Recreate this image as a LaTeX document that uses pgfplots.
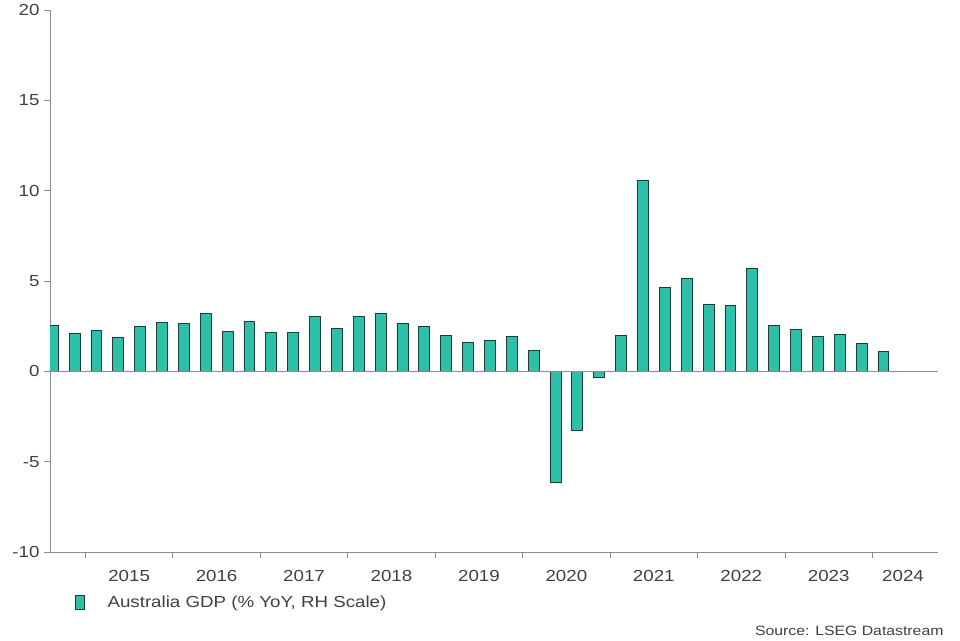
\documentclass[border=0pt]{standalone}
\usepackage{pgfplots}
\pgfplotsset{compat=1.18}
\usepackage{fontspec}
\setmainfont[FakeStretch=1.17]{Liberation Sans}
\definecolor{barfill}{HTML}{2DC0A8}
\definecolor{baredge}{HTML}{1F3D38}
\definecolor{axgrey}{HTML}{8C8C8C}
\definecolor{txt}{HTML}{404040}
\begin{document}
\begin{tikzpicture}[x=1pt,y=1pt]
\path[use as bounding box] (0,0) rectangle (960,640);
\begin{axis}[
  at={(50pt,88pt)}, anchor=south west,
  scale only axis, width=888pt, height=542pt,
  xmin=-1.62, xmax=39, ymin=-10, ymax=20,
  axis x line*=bottom, axis y line*=left,
  axis line style={axgrey, line width=0.8pt},
  ytick={-10,-5,0,5,10,15,20},
  yticklabels={-10,-5,0,5,10,15,20},
  xtick={2,6,10,14,18,22,26,30,34,37.4},
  xticklabels={2015,2016,2017,2018,2019,2020,2021,2022,2023,2024},
  minor xtick={0,4,8,12,16,20,24,28,32,36},
  major x tick style={draw=none},
  minor x tick style={axgrey, line width=0.8pt},
  y tick style={axgrey, line width=0.8pt},
  tick align=outside,
  minor tick length=6pt, major tick length=6pt,
  ticklabel style={font=\fontsize{16}{19}\selectfont, text=txt},
  xticklabel style={yshift=-9pt},
  yticklabel style={xshift=-1pt},
  legend style={at={(rel axis cs:0,0)}, anchor=north west, xshift=22pt, yshift=-40pt,
    draw=none, fill=none, font=\fontsize{16}{19}\selectfont, text=txt},
  legend image code/.code={\draw[#1, line width=0.7pt] (0pt,-7pt) rectangle (9pt,7pt); \path[draw=none, fill=none] (0pt,0pt) -- (30pt,0pt);},
  clip=true,
]
\addplot[ybar, bar width=0.5, fill=barfill, draw=baredge, line width=0.7pt] coordinates {
(-1.5,2.55) (-0.5,2.10) (0.5,2.27) (1.5,1.88) (2.5,2.49) (3.5,2.71) (4.5,2.66) (5.5,3.21)
(6.5,2.21) (7.5,2.77) (8.5,2.16) (9.5,2.16) (10.5,3.04) (11.5,2.38) (12.5,3.04) (13.5,3.21)
(14.5,2.66) (15.5,2.49) (16.5,1.99) (17.5,1.60) (18.5,1.70) (19.5,1.92) (20.5,1.14) (21.5,-6.14)
(22.5,-3.27) (23.5,-0.35) (24.5,1.97) (25.5,10.55) (26.5,4.63) (27.5,5.13) (28.5,3.69) (29.5,3.63)
(30.5,5.68) (31.5,2.53) (32.5,2.31) (33.5,1.92) (34.5,2.03) (35.5,1.53) (36.5,1.09)
};
\addlegendentry{Australia GDP (\% YoY, RH Scale)}
\draw[axgrey, line width=0.8pt] (axis cs:-1.62,0) -- (axis cs:39,0);
\end{axis}
\node[anchor=base east, font=\fontsize{13.5}{16}\selectfont, text=txt] at (947,5) {Source: LSEG Datastream};
\end{tikzpicture}
\end{document}
